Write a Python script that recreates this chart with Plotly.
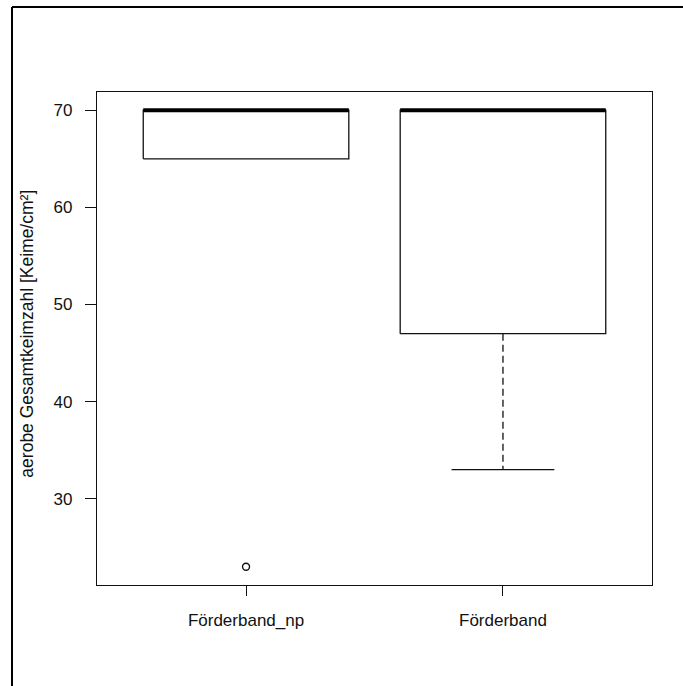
import plotly.graph_objects as go

# Summary statistics for each conveyor belt group
categories = ["Förderband_np", "Förderband"]
lower_whisker = [65, 33]
q1 = [65, 47]
median = [70, 70]
q3 = [70, 70]
upper_whisker = [70, 70]
outliers = [[23], []]
y_ticks = [30, 40, 50, 60, 70]

BOX_HALF = 0.4
CAP_HALF = 0.2
INK = "#111111"

fig = go.Figure()

for i, name in enumerate(categories):
    c = i + 1
    # box outline
    fig.add_trace(go.Scatter(
        x=[c - BOX_HALF, c + BOX_HALF, c + BOX_HALF, c - BOX_HALF, c - BOX_HALF],
        y=[q1[i], q1[i], q3[i], q3[i], q1[i]],
        mode="lines", line=dict(color=INK, width=1.3),
        hoverinfo="skip", showlegend=False))
    # dashed whiskers with caps (hidden by the box edge when they coincide)
    if lower_whisker[i] < q1[i]:
        fig.add_trace(go.Scatter(
            x=[c, c], y=[q1[i], lower_whisker[i]], mode="lines",
            line=dict(color=INK, width=1.3, dash="7px,4px"),
            hoverinfo="skip", showlegend=False))
        fig.add_trace(go.Scatter(
            x=[c - CAP_HALF, c + CAP_HALF], y=[lower_whisker[i]] * 2, mode="lines",
            line=dict(color=INK, width=1.3),
            hoverinfo="skip", showlegend=False))
    if upper_whisker[i] > q3[i]:
        fig.add_trace(go.Scatter(
            x=[c, c], y=[q3[i], upper_whisker[i]], mode="lines",
            line=dict(color=INK, width=1.3, dash="7px,4px"),
            hoverinfo="skip", showlegend=False))
        fig.add_trace(go.Scatter(
            x=[c - CAP_HALF, c + CAP_HALF], y=[upper_whisker[i]] * 2, mode="lines",
            line=dict(color=INK, width=1.3),
            hoverinfo="skip", showlegend=False))
    # median
    fig.add_trace(go.Scatter(
        x=[c - BOX_HALF, c + BOX_HALF], y=[median[i], median[i]], mode="lines",
        line=dict(color="#000000", width=4),
        hoverinfo="skip", showlegend=False))
    # outliers
    if outliers[i]:
        fig.add_trace(go.Scatter(
            x=[c] * len(outliers[i]), y=outliers[i], mode="markers",
            marker=dict(symbol="circle-open", size=7, color=INK,
                        line=dict(width=1.4)),
            hoverinfo="skip", showlegend=False))

font = dict(family="Liberation Sans, Arial, sans-serif", size=17, color="#111111")

fig.update_layout(
    width=683, height=686,
    margin=dict(l=97, r=31, t=92, b=101),
    paper_bgcolor="white", plot_bgcolor="white",
    font=font,
    xaxis=dict(
        range=[0.42, 2.58], tickmode="array", tickvals=[1, 2], ticktext=categories,
        showgrid=False, zeroline=False, showline=True, mirror=True,
        linecolor=INK, linewidth=1.3, ticks="outside", ticklen=10,
        tickwidth=1.3, tickcolor=INK, ticklabelstandoff=9),
    yaxis=dict(
        range=[21.12, 71.88], tickmode="array", tickvals=y_ticks,
        showgrid=False, zeroline=False, showline=True, mirror=True,
        linecolor=INK, linewidth=1.3, ticks="outside", ticklen=11,
        tickwidth=1.3, tickcolor=INK, ticklabelstandoff=9),
    annotations=[dict(
        text="aerobe Gesamtkeimzahl [Keime/cm²]", textangle=-90,
        xref="paper", yref="paper", x=-0.126, y=0.51,
        xanchor="center", yanchor="middle", showarrow=False,
        font=dict(family="Liberation Sans, Arial, sans-serif", size=17.5,
                  color="#111111"))],
    shapes=[
        dict(type="line", xref="paper", yref="paper",
             x0=-0.15315, x1=1.2, y0=1.17241, y1=1.17241,
             line=dict(color="black", width=2)),
        dict(type="line", xref="paper", yref="paper",
             x0=-0.15315, x1=-0.15315, y0=1.17241, y1=-0.3,
             line=dict(color="black", width=2)),
    ],
)

fig.write_html("out.html")
